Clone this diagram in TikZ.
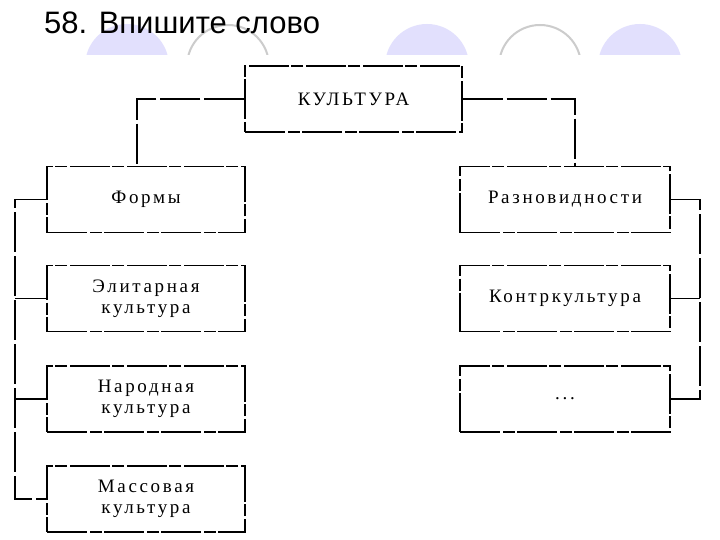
\documentclass[tikz,border=0pt]{standalone}
\usepackage{fontspec}
\setmainfont{Liberation Serif}
\newfontfamily\titlefont{Liberation Sans}
\begin{document}
\begin{tikzpicture}[x=1pt,y=-1pt,
  bx/.style={draw=black,line width=1.1pt,dash pattern=on 40pt off 3pt on 12pt off 2pt,minimum height=66pt,align=center,font=\fontsize{19}{21}\selectfont\addfontfeature{LetterSpace=14},inner sep=0pt},
  ln/.style={draw=black,line width=1.1pt,dash pattern=on 40pt off 4pt},
  fc/.style={fill=violet!10!blue!12!white,draw=none},
  oc/.style={draw=black!20,line width=2pt,fill=white}]
\useasboundingbox (0,0) rectangle (720,540);
\fill[white] (0,0) rectangle (720,540);
\begin{scope}
\clip (0,0) rectangle (720,55);
\fill[fc] (127,66) circle (42);
\draw[oc] (228,66) circle (41);
\fill[fc] (427,66) circle (42);
\draw[oc] (540,66) circle (41);
\fill[fc] (640,66) circle (42);
\end{scope}
\node[anchor=base west,inner sep=0pt,font=\titlefont\fontsize{31}{33}\selectfont] (t) at (44,34) {58. Впишите слово};
\node[bx,minimum width=217pt] (k) at (353.5,99) {КУЛЬТУРА};
\node[bx,minimum width=198pt] (f) at (146,199.5) {Формы};
\node[bx,minimum width=198pt] (e) at (146,298.5) {Элитарная\\культура};
\node[bx,minimum width=198pt] (n) at (146,399) {Народная\\культура};
\node[bx,minimum width=198pt] (m) at (146,499) {Массовая\\культура};
\node[bx,minimum width=210pt] (r) at (565,199.5) {Разновидности};
\node[bx,minimum width=210pt] (c) at (565,298.5) {Контркультура};
\node[bx,minimum width=210pt] (d) at (565,399) {...};
\draw[ln] (k.west) -| (f.north -| 137,0);
\draw[ln] (k.east) -| (r.north -| 575,0);
\coordinate (lb1) at (15,199.5);
\coordinate (lb4) at (15,499);
\draw[ln] (f.west) -- (lb1) -- (lb4) -- (m.west);
\draw[ln] (e.west) -- (e.west -| lb1);
\draw[ln] (n.west) -- (n.west -| lb1);
\coordinate (rb1) at (700,199.5);
\coordinate (rb3) at (700,399);
\draw[ln] (r.east) -- (rb1) -- (rb3) -- (d.east);
\draw[ln] (c.east) -- (c.east -| rb1);
\end{tikzpicture}
\end{document}
